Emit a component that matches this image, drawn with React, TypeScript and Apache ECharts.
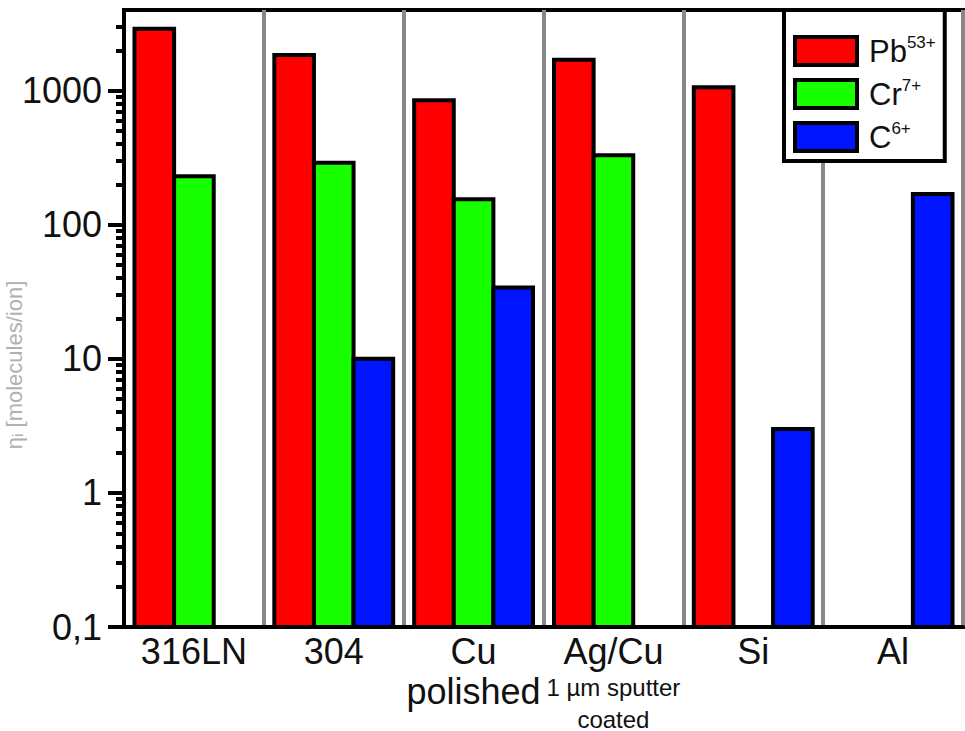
import { useEffect, useRef } from 'react';
import * as echarts from 'echarts';

// Surfaces tested (x categories) and the small note printed under some of them
const categories = ['316LN', '304', 'Cu\npolished', 'Ag/Cu', 'Si', 'Al'];
const categoryNotes = ['', '', '', '1 µm sputter\ncoated', '', ''];

// Projectile ions: element symbol and charge state
const ionSymbols = ['Pb', 'Cr', 'C'];
const ionCharges = ['53+', '7+', '6+'];
const ionColors = ['#ff0000', '#18ff00', '#0014ff'];

// Desorption yields per surface (null = not measured)
const pbYields = [2900, 1850, 850, 1700, 1060, null];
const crYields = [230, 290, 155, 330, null, null];
const cYields = [null, 10, 34, null, 3, 170];

// Log axis range and tick positions
const yMin = 0.1;
const yMax = 4000;
const majorTicks = [0.1, 1, 10, 100, 1000];
const minorTicks = [
  0.2, 0.3, 0.4, 0.5, 0.6, 0.7, 0.8, 0.9,
  2, 3, 4, 5, 6, 7, 8, 9,
  20, 30, 40, 50, 60, 70, 80, 90,
  200, 300, 400, 500, 600, 700, 800, 900,
  2000, 3000,
];
const yTitle = 'ηᵢ [molecules/ion]';

const FONT = '"Liberation Sans", Arial, Helvetica, sans-serif';

export default function App() {
  const ref = useRef<HTMLDivElement>(null);

  useEffect(() => {
    if (!ref.current) return;
    const chart = echarts.init(ref.current, undefined, { renderer: 'svg' });

    const yieldSets = [pbYields, crYields, cYields];
    const seriesNames = ionSymbols.map((s, i) => s + ionCharges[i]);
    const nSeries = yieldSets.length;
    const groupFrac = 0.85;

    const series = yieldSets.map((vals, idx) => ({
      type: 'custom',
      name: seriesNames[idx],
      itemStyle: { color: ionColors[idx], borderColor: '#000', borderWidth: 4 },
      encode: { x: 0, y: 1 },
      data: vals
        .map((v, i) => (v == null ? null : [i, v]))
        .filter((d) => d !== null),
      renderItem: (_params: any, api: any) => {
        const cat = api.value(0);
        const v = api.value(1);
        const top = api.coord([cat, v]);
        const base = api.coord([cat, yMin]);
        const band = api.coord([1, yMin])[0] - api.coord([0, yMin])[0];
        const slot = (band * groupFrac) / nSeries;
        const x = top[0] - (band * groupFrac) / 2 + idx * slot;
        return {
          type: 'rect',
          shape: { x, y: top[1], width: slot, height: base[1] - top[1] },
          style: { fill: ionColors[idx], stroke: '#000', lineWidth: 4 },
        };
      },
    }));

    const yLabel = (v: number) => {
      if (!majorTicks.some((t) => Math.abs(t - v) / t < 1e-6)) return '';
      return v < 1 ? String(v).replace('.', ',') : String(Math.round(v));
    };

    chart.setOption({
      animation: false,
      backgroundColor: '#ffffff',
      grid: {
        left: 124,
        right: 2,
        top: 10,
        bottom: 102,
        show: true,
        borderColor: '#000',
        borderWidth: 4,
        backgroundColor: 'transparent',
      },
      legend: {
        orient: 'vertical',
        left: 784,
        top: 10,
        backgroundColor: '#fff',
        borderColor: '#000',
        borderWidth: 4,
        padding: [24, 9, 8, 9],
        itemWidth: 62,
        itemHeight: 28,
        itemGap: 10,
        selectedMode: false,
        data: seriesNames.map((n, i) => ({
          name: n,
          icon: 'rect',
          itemStyle: { color: ionColors[i], borderColor: '#000', borderWidth: 4 },
        })),
        formatter: (name: string) => {
          const i = seriesNames.indexOf(name);
          return `{el|${ionSymbols[i]}}{q|${ionCharges[i]}}`;
        },
        textStyle: {
          fontFamily: FONT,
          fontSize: 31,
          color: '#111',
          width: 70,
          padding: [0, 0, 0, 7],
          rich: {
            el: { fontFamily: FONT, fontSize: 31, color: '#111', lineHeight: 34 },
            q: { fontFamily: FONT, fontSize: 17, color: '#111', lineHeight: 8, verticalAlign: 'top' },
          },
        },
      },
      xAxis: {
        type: 'category',
        data: categories,
        boundaryGap: true,
        axisLine: { show: true, lineStyle: { color: '#000', width: 4 } },
        axisTick: { show: false },
        axisLabel: {
          interval: 0,
          margin: 4,
          color: '#111',
          fontFamily: FONT,
          formatter: (value: string, index: number) => {
            let s = value
              .split('\n')
              .map((l) => `{m|${l}}`)
              .join('\n');
            const note = categoryNotes[index];
            if (note) {
              s += '\n' + note.split('\n').map((l) => `{s|${l}}`).join('\n');
            }
            return s;
          },
          rich: {
            m: { fontFamily: FONT, fontSize: 36, lineHeight: 40, color: '#111' },
            s: { fontFamily: FONT, fontSize: 24, lineHeight: 32, color: '#111' },
          },
        },
        splitLine: { show: true, interval: 0, lineStyle: { color: '#888', width: 4 } },
      },
      yAxis: [
        {
          type: 'log',
          logBase: 10,
          min: yMin,
          max: yMax,
          position: 'left',
          axisLine: { show: true, lineStyle: { color: '#000', width: 4 } },
          axisTick: {
            show: true,
            length: 16,
            customValues: majorTicks,
            lineStyle: { color: '#000', width: 4 },
          },
          axisLabel: {
            show: true,
            customValues: majorTicks,
            formatter: yLabel,
            fontFamily: FONT,
            fontSize: 36,
            color: '#111',
            margin: 22,
          },
          splitLine: { show: false },
          minorTick: { show: false },
        },
        {
          type: 'log',
          logBase: 10,
          min: yMin,
          max: yMax,
          position: 'left',
          axisLine: { show: false },
          axisLabel: { show: false },
          splitLine: { show: false },
          axisTick: {
            show: true,
            length: 8,
            customValues: minorTicks,
            lineStyle: { color: '#000', width: 4 },
          },
        },
      ],
      graphic: [
        {
          type: 'text',
          x: 14,
          y: 365,
          rotation: Math.PI / 2,
          style: {
            text: yTitle,
            fill: '#b0b0b0',
            font: `22px ${FONT}`,
            align: 'center',
            verticalAlign: 'middle',
          },
        },
      ],
      series,
    });

    return () => chart.dispose();
  }, []);

  return (
    <div
      ref={ref}
      style={{ position: 'fixed', left: 0, top: 0, width: 965, height: 731 }}
    />
  );
}
